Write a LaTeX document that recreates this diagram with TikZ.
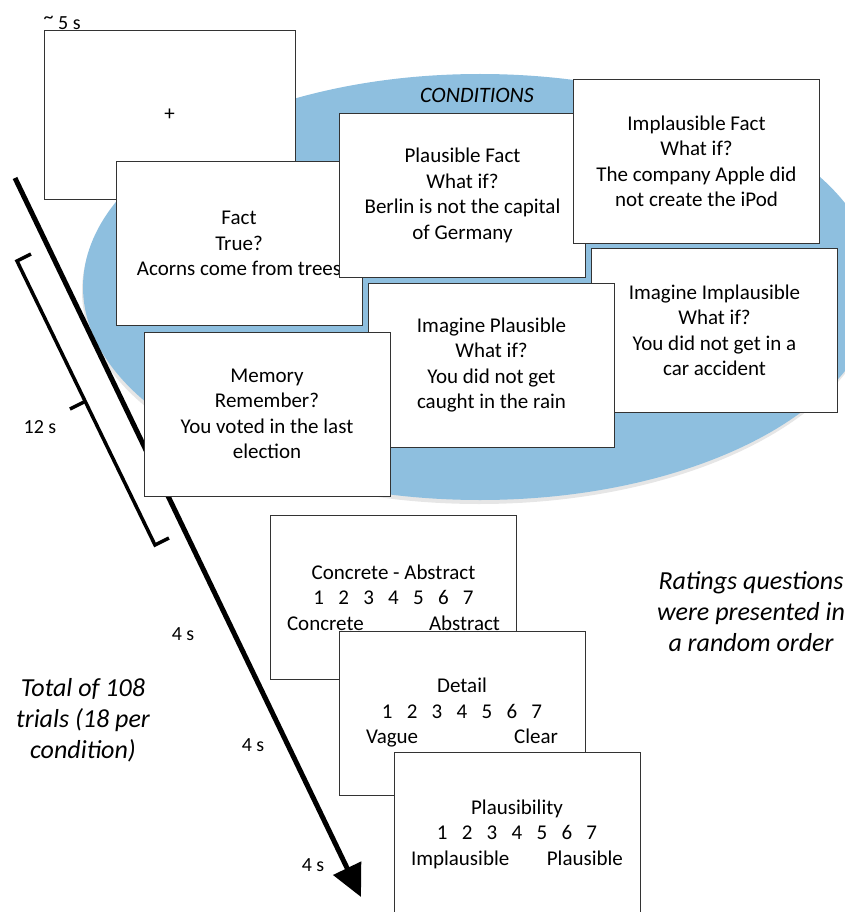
\documentclass[tikz,border=0pt]{standalone}
\usepackage{fontspec}
\setmainfont{Carlito}
\usetikzlibrary{arrows.meta,positioning,shadows,calc}
\definecolor{condblue}{RGB}{142,191,223}
\newcommand{\cardfont}{\fontsize{21}{25.5}\selectfont}
\newcommand{\likert}{1\hspace{.68em}2\hspace{.68em}3\hspace{.68em}4\hspace{.68em}5\hspace{.68em}6\hspace{.68em}7}
\newcommand{\scaleends}[3]{\makebox[#1]{#2\hfill#3}}

\begin{document}
\begin{tikzpicture}[x=1pt, y=-1pt,
  card/.style={draw=black!80, line width=1pt, fill=white, minimum width=246pt,
    minimum height=164pt, align=center, inner sep=0pt, font=\cardfont},
  timelbl/.style={font=\fontsize{20}{24}\selectfont},
  note/.style={font=\fontsize{26}{31}\selectfont\itshape, align=center}]
  \useasboundingbox (0,0) rectangle (845,912);
  % blue background for the six conditions
  \fill[condblue, drop shadow={shadow xshift=-1pt, shadow yshift=-4pt, opacity=.2}]
    (480,287) ellipse (397 and 213);
  \node[font=\fontsize{22}{26}\selectfont\itshape] (condlbl) at (477,95) {CONDITIONS};
  \node[card, minimum width=251pt, minimum height=168pt] (fix) at (169.5,115) {+};
  \node[above right=1pt and 0pt of fix.north west, anchor=south west, inner sep=0pt, timelbl] (fixtime) {\raisebox{.3em}{\textasciitilde} 5 s};
  \node[card] (fact) at (239,243.5) {Fact\\True?\\Acorns come from trees};
  \node[card] (plausfact) at (462.5,195.5) {Plausible Fact\\What if?\\Berlin is not the capital\\of Germany};
  \node[card] (implfact) at (696.5,161.5) {Implausible Fact\\What if?\\The company Apple did\\not create the iPod};
  \node[card] (imagimpl) at (714.5,330.5) {Imagine Implausible\\What if?\\You did not get in a\\car accident};
  \node[card] (imagplaus) at (491.5,365) {Imagine Plausible\\What if?\\You did not get\\caught in the rain};
  % time line runs behind the memory card
  \coordinate (tstart) at (15,178);
  \coordinate (tend) at (361,897);
  \draw[line width=5pt, -{Triangle[length=32pt, width=30pt]}] (tstart) -- (tend);
  \node[card] (memory) at (267,414) {Memory\\Remember?\\You voted in the last\\election};
  % rating cards
  \node[card] (concrete) at (393.5,597.5) {Concrete - Abstract\\\likert\\\scaleends{213pt}{Concrete}{Abstract}};
  \node[card] (detail) at (462,713) {Detail\\\likert\\\scaleends{192pt}{Vague}{Clear}};
  \node[card] (plausib) at (517,834) {Plausibility\\\likert\\\scaleends{212pt}{Implausible}{Plausible}};
  % bracket for the 12 s phase
  \coordinate (brtop) at (17,261);
  \coordinate (brbot) at (155,545);
  \coordinate (brmid) at (84,402);
  \draw[line width=3.5pt, line join=miter] ($(brtop)+(14,-7)$) -- (brtop) -- (brbot) -- ++(14,-7);
  \draw[line width=3.5pt] (brmid) -- ++(-14,7);
  \node[timelbl] (t12) at (40,427) {12 s};
  \node[timelbl] (t4a) at (183,634) {4 s};
  \node[timelbl] (t4b) at (253,745) {4 s};
  \node[timelbl] (t4c) at (313,865) {4 s};
  \node[note] (total) at (83,720) {Total of 108\\trials (18 per\\condition)};
  \node[note] (random) at (751,612) {Ratings questions\\were presented in\\a random order};
\end{tikzpicture}
\end{document}
